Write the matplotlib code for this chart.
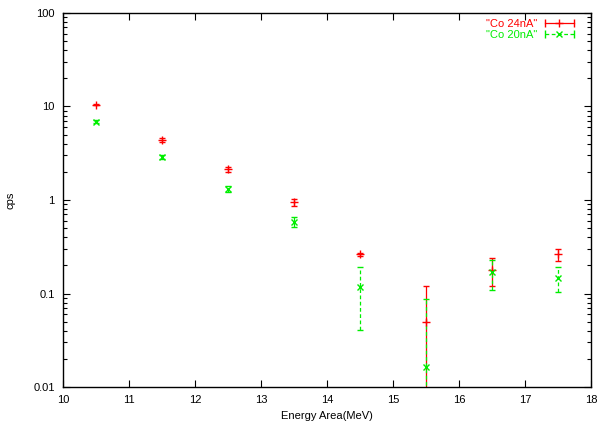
import matplotlib.pyplot as plt
from matplotlib.lines import Line2D
from matplotlib.legend_handler import HandlerLine2D, HandlerTuple
from matplotlib.ticker import FixedLocator, FixedFormatter, LogLocator, NullFormatter

plt.rcParams['font.family'] = ['Liberation Sans', 'DejaVu Sans']

energy = [10.5, 11.5, 12.5, 13.5, 14.5, 15.5, 16.5, 17.5]

co24 = [10.5, 4.35, 2.12, 0.95, 0.262, 0.050, 0.180, 0.262]
co24_err = [0.25, 0.2, 0.12, 0.08, 0.01, 0.07, 0.06, 0.04]

co20 = [6.9, 2.87, 1.32, 0.58, 0.116, 0.0163, 0.168, 0.148]
co20_err = [0.2, 0.15, 0.1, 0.07, 0.075, 0.07, 0.06, 0.043]

y_ticks = [0.01, 0.1, 1, 10, 100]
y_labels = ['0.01', '0.1', '1', '10', '100']

red = '#ff0000'
green = '#00ee00'
dash = (0, (3, 2))

fig = plt.figure(figsize=(5.97, 4.28), dpi=100)
ax = fig.add_axes([63 / 597, 41 / 428, 528 / 597, 374 / 428])

ax.errorbar(energy, co24, yerr=co24_err, fmt='+', color=red,
            ecolor=red, elinewidth=0.9, capsize=2.5, capthick=0.9,
            markersize=6, markeredgewidth=1.0)
eb = ax.errorbar(energy, co20, yerr=co20_err, fmt='x', color=green,
                 ecolor=green, elinewidth=0.9, capsize=2.5, capthick=0.9,
                 markersize=5, markeredgewidth=1.0)
eb[2][0].set_linestyle(dash)

ax.set_yscale('log')
ax.set_xlim(10, 18)
ax.set_ylim(0.01, 100)

ax.yaxis.set_major_locator(FixedLocator(y_ticks))
ax.yaxis.set_major_formatter(FixedFormatter(y_labels))
ax.yaxis.set_minor_locator(LogLocator(base=10, subs=range(2, 10)))
ax.yaxis.set_minor_formatter(NullFormatter())
ax.set_xticks(range(10, 19))

ax.tick_params(which='both', direction='in', top=True, right=True,
               labelsize=8, width=0.8)
ax.tick_params(which='major', length=5, pad=6)
ax.tick_params(which='minor', length=3)
for s in ax.spines.values():
    s.set_linewidth(1.0)

ax.set_xlabel('Energy Area(MeV)', fontsize=8, labelpad=4)
ax.set_ylabel('cps', fontsize=8, labelpad=13)

# legend keys in gnuplot style: horizontal bar with end caps, marker in middle
cap24 = Line2D([], [], color=red, lw=0.9, marker='|', markersize=6)
cap20 = Line2D([], [], color=green, lw=0.9, ls=dash, marker='|', markersize=6)
mk24 = Line2D([], [], color=red, ls='none', marker='+', markersize=6)
mk20 = Line2D([], [], color=green, ls='none', marker='x', markersize=5)
leg = ax.legend([(cap24, mk24), (cap20, mk20)], ['"Co 24nA"', '"Co 20nA"'],
                handler_map={tuple: HandlerTuple(ndivide=1, pad=0),
                             cap24: HandlerLine2D(numpoints=2),
                             cap20: HandlerLine2D(numpoints=2)},
                loc='upper right', bbox_to_anchor=(0.9735, 0.984),
                frameon=False, markerfirst=False,
                fontsize=8, numpoints=1, handlelength=3.2, handletextpad=0.35,
                labelspacing=0.1, borderaxespad=0, borderpad=0)
leg.get_texts()[0].set_color(red)
leg.get_texts()[1].set_color(green)

fig.savefig('out.png', dpi=100)
